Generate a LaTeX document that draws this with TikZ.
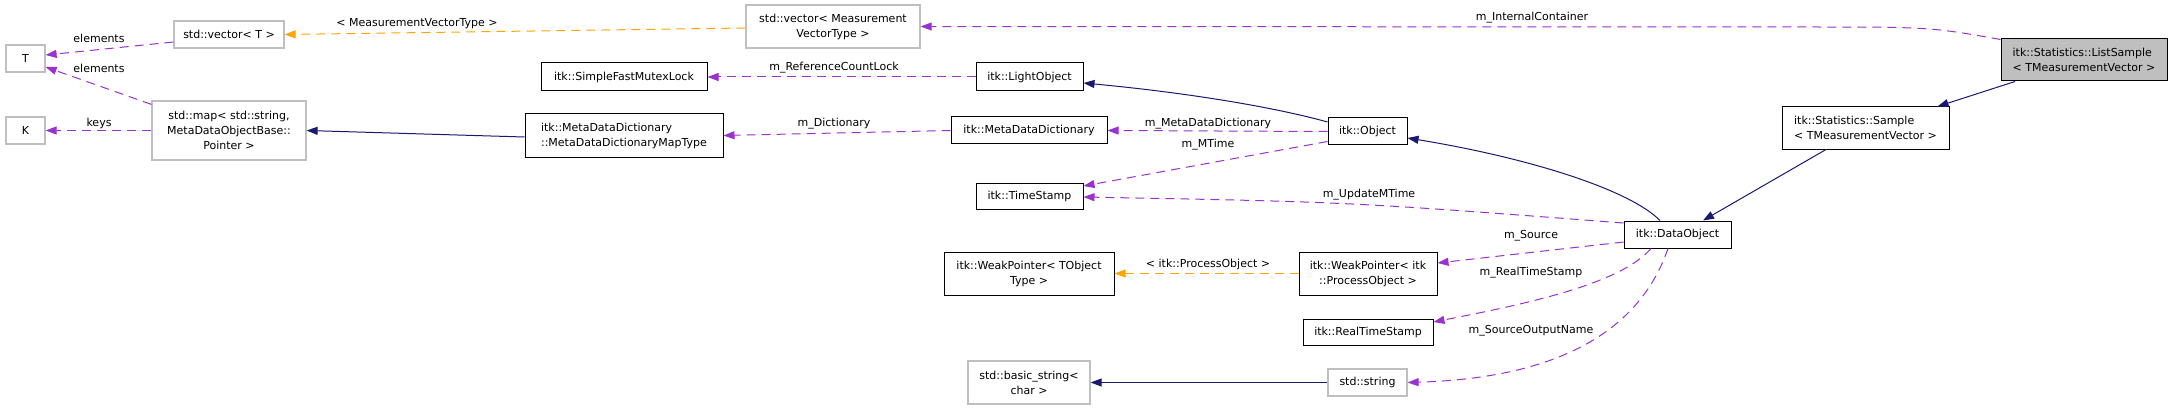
\documentclass[tikz,border=0pt]{standalone}
\usepackage{fontspec}
\setmainfont{DejaVu Sans}
\usetikzlibrary{arrows.meta}
\definecolor{purp}{HTML}{9A32CD}
\definecolor{navy}{HTML}{191970}
\definecolor{orng}{HTML}{FFA500}
\definecolor{grey75}{HTML}{BFBFBF}

\begin{document}
\begin{tikzpicture}[x=1pt,y=-1pt,every node/.style={font=\fontsize{11}{15}\selectfont},
  cls/.style={draw=black,line width=1pt,inner sep=0pt,align=center},
  ext/.style={draw=grey75,line width=1.2pt,inner sep=0pt,align=center},
  lbl/.style={inner sep=0pt},
  usesline/.style={draw=purp,line width=1pt,dash pattern=on 9pt off 6pt,-{Triangle[length=11pt,width=8pt]}},
  tplline/.style={draw=orng,line width=1pt,dash pattern=on 9pt off 6pt,-{Triangle[length=11pt,width=8pt]}},
  inhline/.style={draw=navy,line width=1pt,-{Triangle[length=11pt,width=8pt]}}]
\fill[white] (0,0) rectangle (2173,409);
\useasboundingbox (0,0) rectangle (2173,409);
\node[ext,minimum width=39,minimum height=27] (T) at (25.5,58.5) {T};
\node[ext,minimum width=39,minimum height=27] (K) at (25.5,130.5) {K};
\node[ext,minimum width=110,minimum height=27] (vecT) at (229,34.5) {std::vector< T >};
\node[ext,minimum width=154,minimum height=59] (map) at (229,130.5) {std::map< std::string,\\MetaDataObjectBase::\\Pointer >};
\node[cls,minimum width=166,minimum height=28] (mutex) at (624,77) {itk::SimpleFastMutexLock};
\node[cls,minimum width=198,minimum height=43,align=left] (mapType) at (624,135.5) {itk::MetaDataDictionary\\::MetaDataDictionaryMapType};
\node[ext,minimum width=174,minimum height=43] (vecMVT) at (833,26.5) {std::vector< Measurement\\VectorType >};
\node[cls,minimum width=107,minimum height=28] (light) at (1029.5,77) {itk::LightObject};
\node[cls,minimum width=156,minimum height=27] (mdd) at (1029,130.5) {itk::MetaDataDictionary};
\node[cls,minimum width=107,minimum height=26] (stamp) at (1029.5,196) {itk::TimeStamp};
\node[cls,minimum width=170,minimum height=43] (wpT) at (1029,273.5) {itk::WeakPointer< TObject\\Type >};
\node[ext,minimum width=122,minimum height=43] (bstr) at (1029,382.5) {std::basic\_string<\\char >};
\node[cls,minimum width=79,minimum height=27] (object) at (1367.5,131.5) {itk::Object};
\node[cls,minimum width=138,minimum height=43] (wpP) at (1368,273.5) {itk::WeakPointer< itk\\::ProcessObject >};
\node[cls,minimum width=130,minimum height=26] (rts) at (1368,332) {itk::RealTimeStamp};
\node[ext,minimum width=79,minimum height=27] (str) at (1367.5,382.5) {std::string};
\node[cls,minimum width=107,minimum height=27] (data) at (1677.5,234.5) {itk::DataObject};
\node[cls,minimum width=167,minimum height=42,align=left] (sample) at (1865.5,128) {itk::Statistics::Sample\\< TMeasurementVector >};
\node[cls,fill=grey75,minimum width=166,minimum height=42,align=left] (list) at (2084,60) {itk::Statistics::ListSample\\< TMeasurementVector >};
\draw[usesline] ([yshift=-7.5pt]vecT.west) -- ([yshift=3.5pt]T.east);
\draw[usesline] ([yshift=-4pt]map.north west) -- ([yshift=-8.5pt]T.east);
\draw[usesline] (map.west) -- (K.east);
\draw[tplline] ([yshift=-1.5pt]vecMVT.west) -- (vecT.east);
\draw[inhline] ([yshift=-1.5pt]mapType.west) -- (map.east);
\draw[usesline] (light.west) -- (mutex.east);
\draw[usesline] (mdd.west) -- (mapType.east);
\draw[usesline] ([yshift=-1pt]list.north west) .. controls (1930,27) .. (1800,27) -- (vecMVT.east);
\draw[inhline] ([yshift=9.5pt]object.west) .. controls (1270,106) and (1180,92) .. ([yshift=-6pt]light.east);
\draw[usesline] (object.west) -- (mdd.east);
\draw[usesline] ([yshift=-10pt]object.west) -- ([yshift=10pt]stamp.east);
\draw[inhline] ([xshift=-17.5pt]data.north) .. controls (1630,190) and (1530,158) .. ([yshift=-6.5pt]object.east);
\draw[inhline] ([xshift=-39.5pt]sample.south) -- ([xshift=25.5pt]data.north);
\draw[inhline] ([xshift=-69pt]list.south) -- ([xshift=72pt]sample.north);
\draw[usesline] ([yshift=11.5pt]data.west) .. controls (1350,202) .. ([yshift=-1pt]stamp.east);
\draw[usesline] ([yshift=-7.5pt]data.west) -- ([yshift=10.5pt]wpP.east);
\draw[tplline] (wpP.west) -- (wpT.east);
\draw[usesline] ([xshift=-26.5pt]data.south) .. controls (1620,285) and (1520,305) .. ([yshift=10pt]rts.east);
\draw[usesline] ([xshift=-9.5pt]data.south) .. controls (1640,330) and (1560,378) .. (str.east);
\draw[inhline] (str.west) -- (bstr.east);
\node[lbl] (lElemA) at (99,38) {elements};
\node[lbl] (lElemB) at (99,68) {elements};
\node[lbl] (lKeys) at (99,123) {keys};
\node[lbl] (lMVT) at (417,24) {< MeasurementVectorType >};
\node[lbl] (lRefLock) at (834,68) {m\_ReferenceCountLock};
\node[lbl] (lDict) at (834,124) {m\_Dictionary};
\node[lbl] (lCont) at (1532,18) {m\_InternalContainer};
\node[lbl] (lMDD) at (1208,124) {m\_MetaDataDictionary};
\node[lbl] (lMTime) at (1208,145) {m\_MTime};
\node[lbl] (lUpd) at (1369,195) {m\_UpdateMTime};
\node[lbl] (lSrc) at (1531,236) {m\_Source};
\node[lbl] (lProc) at (1208,264) {< itk::ProcessObject >};
\node[lbl] (lRTS) at (1531,273) {m\_RealTimeStamp};
\node[lbl] (lSON) at (1531,331) {m\_SourceOutputName};
\end{tikzpicture}
\end{document}
